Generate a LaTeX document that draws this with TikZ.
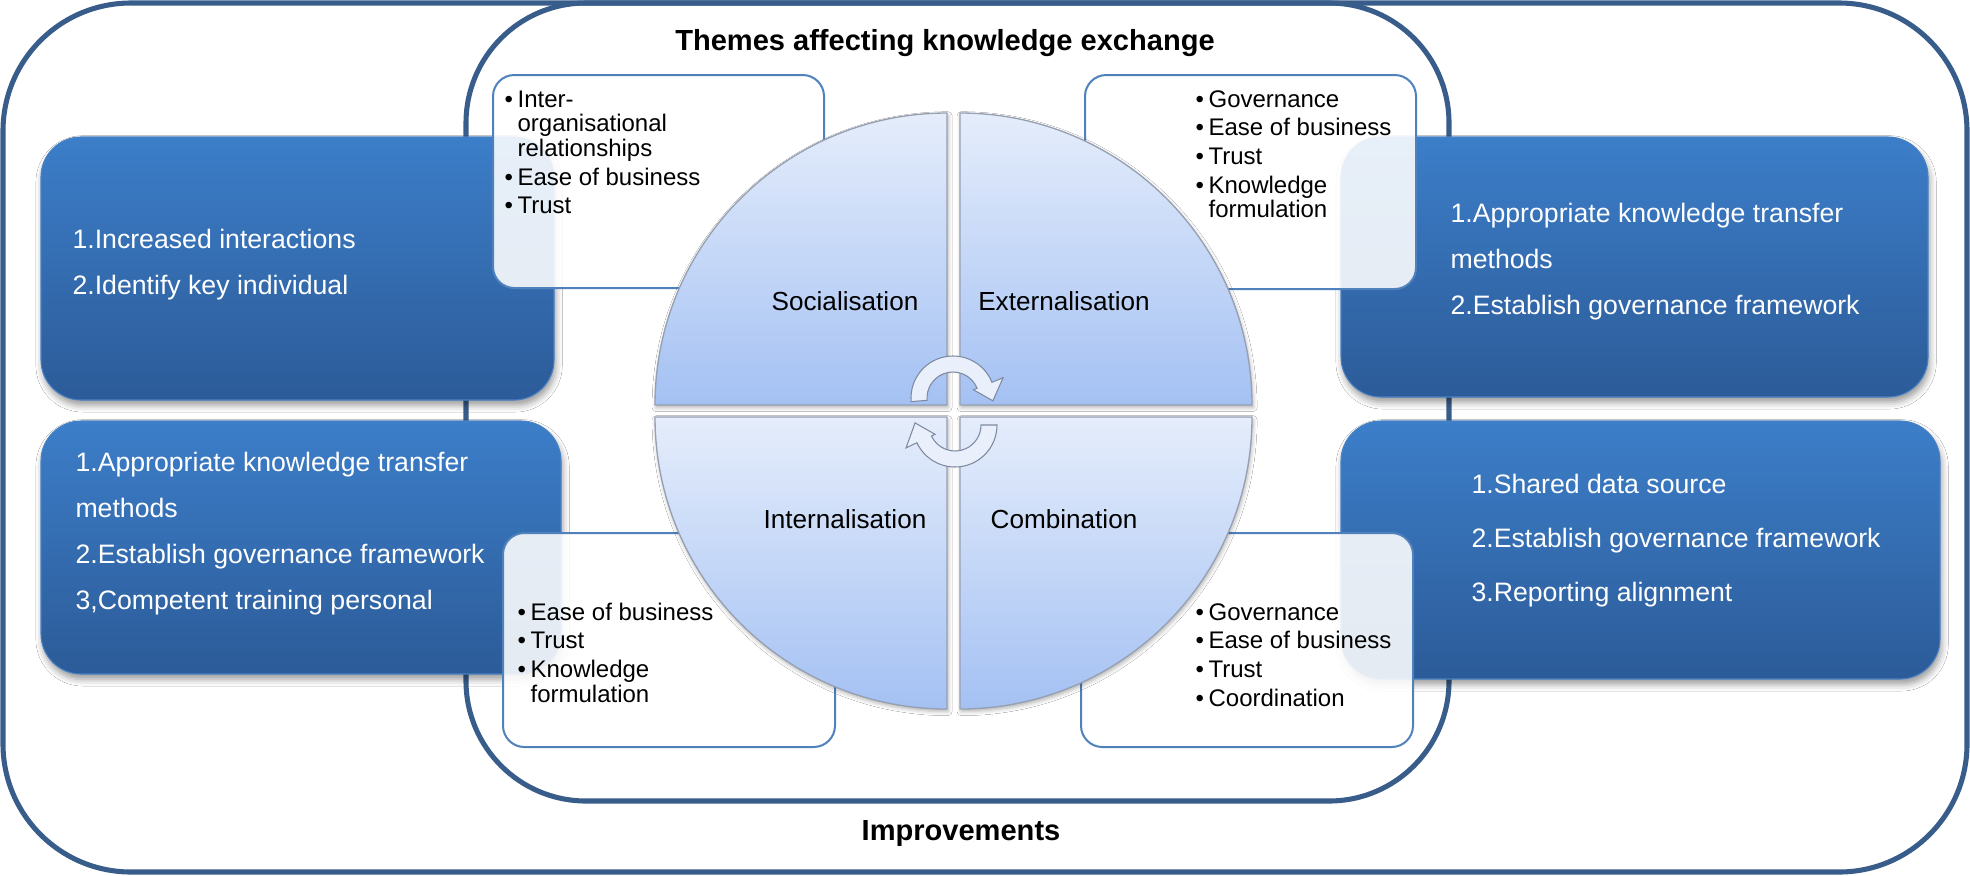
\documentclass[tikz,border=0pt]{standalone}
\usepackage{fontspec}
\setmainfont{Liberation Sans}
\usetikzlibrary{shadows.blur}

\definecolor{framecol}{RGB}{56,93,138}
\definecolor{boxtop}{RGB}{60,126,201}
\definecolor{boxbot}{RGB}{44,91,152}
\definecolor{boxedge}{RGB}{72,128,196}
\definecolor{themeedge}{RGB}{79,129,189}
\definecolor{quadtop}{RGB}{229,237,251}
\definecolor{quadbot}{RGB}{164,193,243}
\definecolor{quadedge}{RGB}{150,160,178}
\definecolor{cycfill}{RGB}{234,240,251}
\definecolor{cycedge}{RGB}{125,138,160}

% bullet cell of a theme list
\newcommand{\bl}{\makebox[4.9pt][l]{\textbullet}}

\begin{document}
\begin{tikzpicture}[x=0.375pt,y=0.375pt,
  frame/.style={draw=framecol, line width=1.9pt},
  actionbox/.style={rounded corners=15pt, top color=boxtop, bottom color=boxbot,
    draw=boxedge, line width=0.4pt,
    blur shadow={shadow xshift=0.6pt, shadow yshift=-2pt, shadow blur radius=2.5pt, shadow opacity=40}},
  themebox/.style={rounded corners=8pt, fill=white, fill opacity=0.88,
    draw=themeedge, line width=0.75pt},
  quad/.style={top color=quadtop, bottom color=quadbot, draw=quadedge, line width=0.5pt,
    blur shadow={shadow xshift=0.4pt, shadow yshift=-1pt, shadow blur radius=1.5pt, shadow opacity=30}},
  cyc/.style={fill=cycfill, draw=cycedge, line width=0.4pt},
  actiontext/.style={text=white, inner sep=0pt, anchor=base west},
  themetext/.style={text=black, inner sep=0pt, anchor=base west,
    font=\fontsize{9}{9.2}\selectfont},
  phase/.style={inner sep=0pt, anchor=base, font=\fontsize{9.8}{12}\selectfont},
  heading/.style={inner sep=0pt, anchor=base, font=\fontsize{10.9}{13}\selectfont\bfseries}
]
\useasboundingbox (0,0) rectangle (1970,-875);

% outer and inner frames
\draw[frame, fill=white, rounded corners=48pt] (3,-3) rectangle (1967,-872);
\draw[frame, rounded corners=45pt] (466,-3) rectangle (1449,-801);

% improvement boxes
\path[actionbox] (41,-137) rectangle (554,-400);
\path[actionbox] (41,-421) rectangle (561,-674);
\path[actionbox] (1341,-137) rectangle (1928,-397);
\path[actionbox] (1341,-421) rectangle (1940,-679);

% theme boxes
\path[themebox] (493,-75) rectangle (824,-288);
\path[themebox] (1085,-75) rectangle (1416,-289);
\path[themebox] (503,-533) rectangle (835,-747);
\path[themebox] (1081,-533) rectangle (1413,-747);

% four quadrants of the knowledge cycle
\path[quad] (947,-405) -- (655,-405) arc[start angle=180, end angle=90, radius=109.5pt] -- cycle;
\path[quad] (960,-405) -- (960,-113) arc[start angle=90, end angle=0, radius=109.5pt] -- cycle;
\path[quad] (947,-417) -- (655,-417) arc[start angle=180, end angle=270, radius=109.5pt] -- cycle;
\path[quad] (960,-417) -- (1252,-417) arc[start angle=0, end angle=-90, radius=109.5pt] -- cycle;

% circular arrows
\begin{scope}[shift={(953,-398)}]
  \path[cyc] (185:42) arc[start angle=185, end angle=22, radius=15.75pt]
    -- (22:54) -- (-4:40) -- (22:22) -- (22:26)
    arc[start angle=22, end angle=185, radius=9.75pt] -- cycle;
\end{scope}
\begin{scope}[shift={(955,-425)}]
  \path[cyc] (0:42) arc[start angle=0, end angle=-155, radius=15.75pt]
    -- (-155:54) -- (-183:40) -- (-155:22) -- (-155:26)
    arc[start angle=-155, end angle=0, radius=9.75pt] -- cycle;
\end{scope}

% headings
\node[heading] (themes) at (945,-50) {Themes affecting knowledge exchange};
\node[heading] (improve) at (961,-840) {Improvements};

% phase labels
\node[phase] (soc) at (845,-310) {Socialisation};
\node[phase] (ext) at (1064,-310) {Externalisation};
\node[phase] (int) at (845,-528) {Internalisation};
\node[phase] (com) at (1064,-528) {Combination};

% theme lists
\node[themetext] (thTL) at (504,-107) {\begin{tabular}[t]{@{}l@{}l@{}}
\bl&Inter-\\
&organisational\\
&relationships\\[1.5pt]
\bl&Ease of business\\[1.5pt]
\bl&Trust
\end{tabular}};
\node[themetext] (thTR) at (1195,-107) {\begin{tabular}[t]{@{}l@{}l@{}}
\bl&Governance\\[1.5pt]
\bl&Ease of business\\[1.5pt]
\bl&Trust\\[1.5pt]
\bl&Knowledge\\
&formulation
\end{tabular}};
\node[themetext] (thBL) at (517,-620) {\begin{tabular}[t]{@{}l@{}l@{}}
\bl&Ease of business\\[1.5pt]
\bl&Trust\\[1.5pt]
\bl&Knowledge\\
&formulation
\end{tabular}};
\node[themetext] (thBR) at (1195,-620) {\begin{tabular}[t]{@{}l@{}l@{}}
\bl&Governance\\[1.5pt]
\bl&Ease of business\\[1.5pt]
\bl&Trust\\[1.5pt]
\bl&Coordination
\end{tabular}};

% improvement lists
\node[actiontext, font=\fontsize{10}{17.25}\selectfont] (imTL) at (72,-248.5) {\begin{tabular}[t]{@{}l@{}}
1.Increased interactions\\
2.Identify key individual
\end{tabular}};
\node[actiontext, font=\fontsize{10}{17.25}\selectfont] (imBL) at (75,-471) {\begin{tabular}[t]{@{}l@{}}
1.Appropriate knowledge transfer\\
methods\\
2.Establish governance framework\\
3,Competent training personal
\end{tabular}};
\node[actiontext, font=\fontsize{10}{17.25}\selectfont] (imTR) at (1450,-222.5) {\begin{tabular}[t]{@{}l@{}}
1.Appropriate knowledge transfer\\
methods\\
2.Establish governance framework
\end{tabular}};
\node[actiontext, font=\fontsize{10}{20.4}\selectfont] (imBR) at (1471,-493) {\begin{tabular}[t]{@{}l@{}}
1.Shared data source\\
2.Establish governance framework\\
3.Reporting alignment
\end{tabular}};
\end{tikzpicture}
\end{document}
